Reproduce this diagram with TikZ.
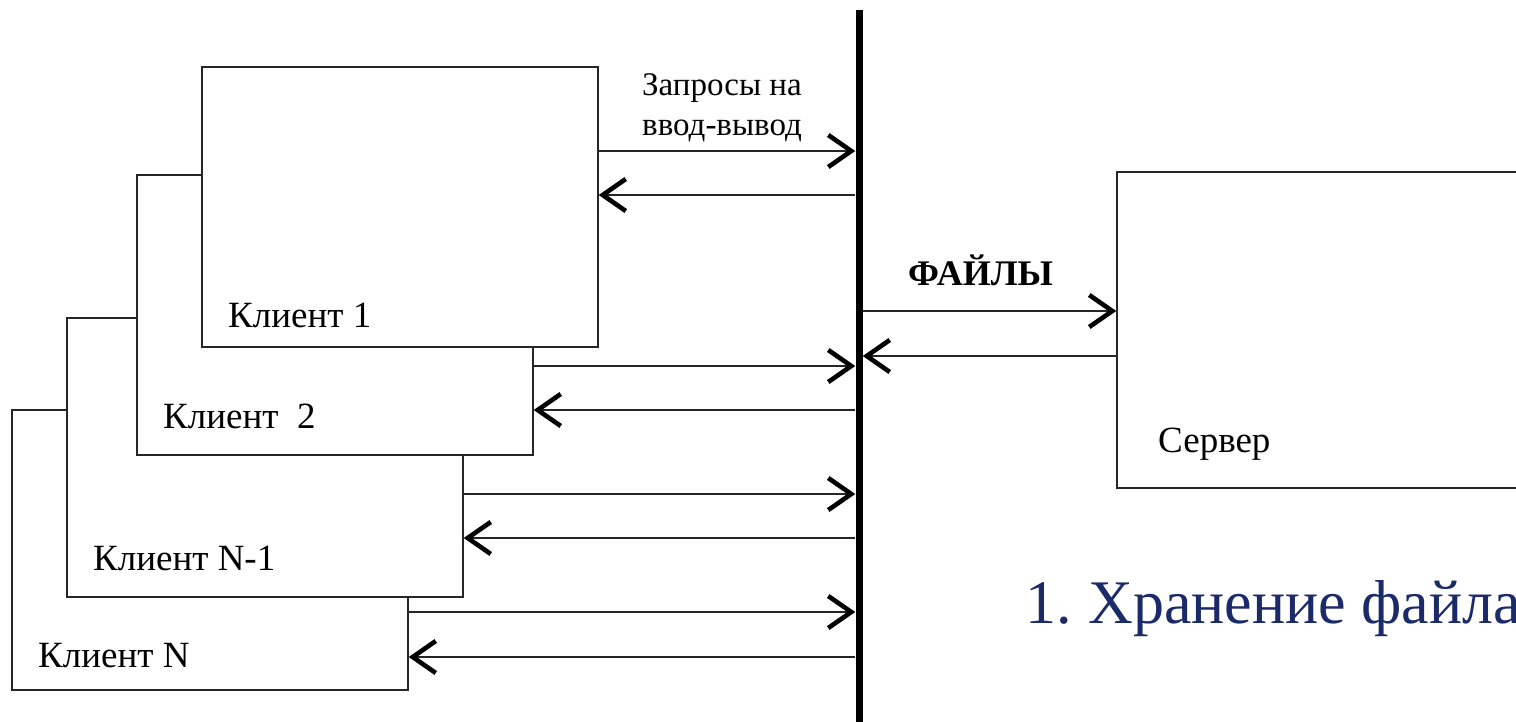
\documentclass[tikz,border=0pt]{standalone}
\usepackage{fontspec}
\setmainfont{Liberation Serif}
\usetikzlibrary{arrows.meta}
\definecolor{navy}{RGB}{27,42,104}
\tikzset{
  box/.style={draw=black!85, line width=1.4pt, fill=white, inner sep=0pt},
  arr/.style={draw=black!85, line width=1.4pt, -{Straight Barb[length=23pt,width=32pt,line width=4.6pt,color=black]}},
  lbl/.style={inner sep=0pt, anchor=base west, font=\fontsize{37}{44}\selectfont},
  small/.style={inner sep=0pt, anchor=base west, font=\fontsize{33}{40}\selectfont},
}
\begin{document}
\begin{tikzpicture}[x=1pt,y=-1pt]
\useasboundingbox (0,0) rectangle (1516,721);
\clip (0,0) rectangle (1516,721);
\fill[white] (0,0) rectangle (1516,721);
% client boxes, back to front
\node[box, minimum width=396pt, minimum height=280pt] (cn)  at (210,550) {};
\node[box, minimum width=396pt, minimum height=279pt] (cn1) at (265,457.5) {};
\node[box, minimum width=396pt, minimum height=280pt] (c2)  at (335,315) {};
\node[box, minimum width=396pt, minimum height=280pt] (c1)  at (400,207) {};
% server
\node[box, minimum width=440pt, minimum height=316pt] (srv) at (1337,330) {};
% bus
\node[fill=black, inner sep=0pt, minimum width=7pt, minimum height=712pt] (bus) at (859,366) {};
% arrows client 1
\draw[arr] (c1.east |- 0,151) -- (bus.west |- 0,151);
\draw[arr] (bus.west |- 0,195) -- (c1.east |- 0,195);
% client 2
\draw[arr] (c2.east |- 0,366) -- (bus.west |- 0,366);
\draw[arr] (bus.west |- 0,410) -- (c2.east |- 0,410);
% client N-1
\draw[arr] (cn1.east |- 0,494) -- (bus.west |- 0,494);
\draw[arr] (bus.west |- 0,538) -- (cn1.east |- 0,538);
% client N
\draw[arr] (cn.east |- 0,612) -- (bus.west |- 0,612);
\draw[arr] (bus.west |- 0,657) -- (cn.east |- 0,657);
% server
\draw[arr] (bus.east |- 0,311) -- (srv.west |- 0,311);
\draw[arr] (srv.west |- 0,356) -- (bus.east |- 0,356);
% labels
\node[lbl] (t1) at (228,327) {Клиент 1};
\node[lbl] (t2) at (163,428) {Клиент~~2};
\node[lbl] (t3) at (93,570) {Клиент N-1};
\node[lbl] (t4) at (38,667) {Клиент N};
\node[lbl] (ts) at (1158,452) {Сервер};
\node[small] (q1) at (642,95) {Запросы на};
\node[small] (q2) at (642,135) {ввод-вывод};
\node[lbl, font=\fontsize{36}{44}\selectfont\bfseries] (f) at (908,285) {ФАЙЛЫ};
\node[inner sep=0pt, anchor=base west, text=navy, font=\fontsize{62}{72}\selectfont] (title) at (1025,623) {1.\hspace{-4pt} Хранение файла};
\end{tikzpicture}
\end{document}
